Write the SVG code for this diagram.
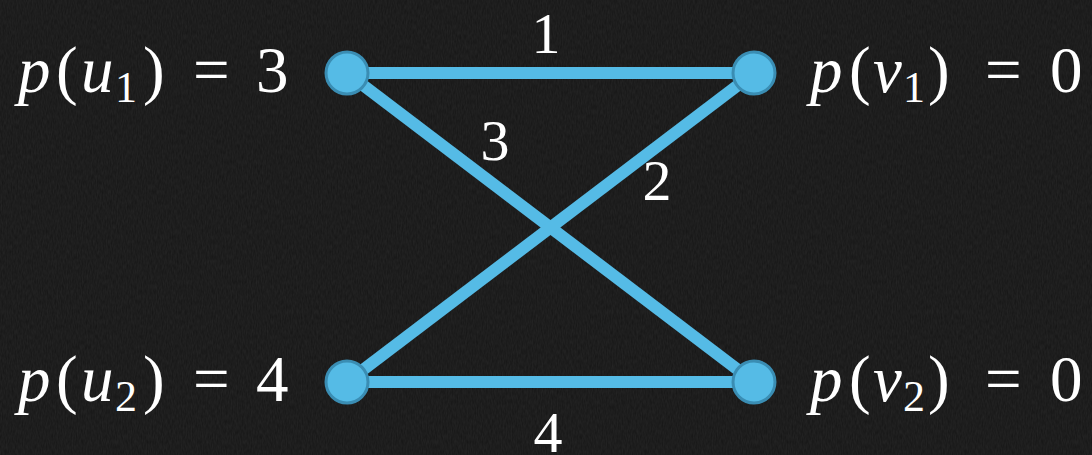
<svg xmlns="http://www.w3.org/2000/svg" width="1092" height="455" viewBox="0 0 1092 455">
<defs>
<style>
.bg{fill:#151515}
.edge{stroke:#55bbe6;stroke-width:12;stroke-linecap:butt;fill:none}
.node{fill:#55bbe6;stroke:#3a8db3;stroke-width:3}
.lbl{font-family:"Liberation Serif","DejaVu Serif",serif;font-size:65px;fill:#ffffff}
.it{font-style:italic}
.sub{font-size:44px}
.w{font-family:"Liberation Serif","DejaVu Serif",serif;font-size:58px;fill:#ffffff;text-anchor:middle}
</style>
<filter id="grain" x="0" y="0" width="100%" height="100%">
<feTurbulence type="fractalNoise" baseFrequency="0.8 0.2" numOctaves="2" seed="3" result="n"/>
<feColorMatrix in="n" type="matrix" values="0 0 0 0 0.35  0 0 0 0 0.35  0 0 0 0 0.35  0 0 0 0.12 0"/>
</filter>
</defs>
<rect class="bg" x="0" y="0" width="1092" height="455"/>
<rect x="0" y="0" width="1092" height="455" filter="url(#grain)"/>
<g id="connectors">
<line class="edge" x1="347" y1="73" x2="754" y2="73"/>
<line class="edge" x1="347" y1="73" x2="754" y2="382"/>
<line class="edge" x1="754" y1="73" x2="347" y2="382"/>
<line class="edge" x1="347" y1="382" x2="754" y2="382"/>
<text class="w" x="546" y="53">1</text>
<text class="w" x="495" y="160">3</text>
<text class="w" x="657" y="200">2</text>
<text class="w" x="548" y="452">4</text>
</g>
<g id="u1">
<circle class="node" cx="347" cy="73" r="21"/>
<text class="lbl" y="92"><tspan class="it" x="18">p</tspan><tspan x="56">(</tspan><tspan class="it" x="81">u</tspan><tspan class="sub" x="115" y="102">1</tspan><tspan x="143" y="92">)</tspan><tspan x="193">=</tspan><tspan x="256">3</tspan></text>
</g>
<g id="v1">
<circle class="node" cx="754" cy="73" r="21"/>
<text class="lbl" y="92"><tspan class="it" x="810">p</tspan><tspan x="849">(</tspan><tspan class="it" x="873">v</tspan><tspan class="sub" x="903" y="102">1</tspan><tspan x="928" y="92">)</tspan><tspan x="985">=</tspan><tspan x="1050">0</tspan></text>
</g>
<g id="u2">
<circle class="node" cx="347" cy="382" r="21"/>
<text class="lbl" y="401"><tspan class="it" x="18">p</tspan><tspan x="56">(</tspan><tspan class="it" x="81">u</tspan><tspan class="sub" x="115" y="411">2</tspan><tspan x="143" y="401">)</tspan><tspan x="193">=</tspan><tspan x="256">4</tspan></text>
</g>
<g id="v2">
<circle class="node" cx="754" cy="382" r="21"/>
<text class="lbl" y="401"><tspan class="it" x="810">p</tspan><tspan x="849">(</tspan><tspan class="it" x="873">v</tspan><tspan class="sub" x="903" y="411">2</tspan><tspan x="928" y="401">)</tspan><tspan x="985">=</tspan><tspan x="1050">0</tspan></text>
</g>
</svg>
